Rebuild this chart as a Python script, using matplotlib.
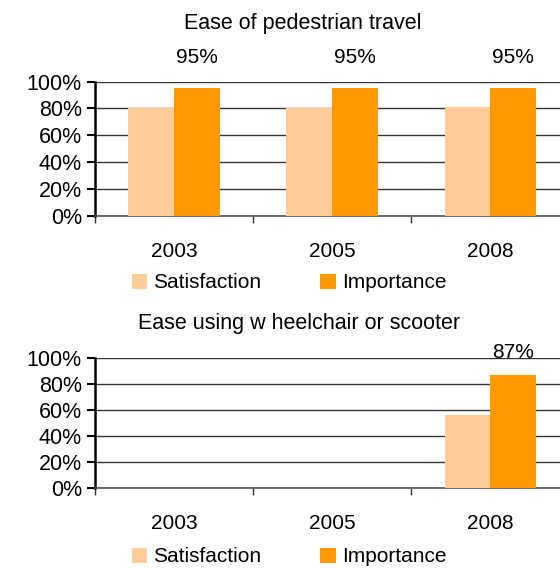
import numpy as np
import matplotlib.pyplot as plt

plt.rcParams['font.family'] = ['Liberation Sans', 'DejaVu Sans']

years = ["2003", "2005", "2008"]

ped_title = "Ease of pedestrian travel"
ped_satisfaction = [80, 80, 81]
ped_importance = [95, 95, 95]

wheel_title = "Ease using w heelchair or scooter"
wheel_satisfaction = [np.nan, np.nan, 56]
wheel_importance = [np.nan, np.nan, 87]

sat_color = "#FFCC99"
imp_color = "#FF9900"

fig = plt.figure(figsize=(5.6, 5.68), dpi=100)


def draw_panel(rect, title, title_xy, sat, imp, label_offset, legend_y):
    ax = fig.add_axes(rect)
    x = np.arange(len(years))
    w = 0.29
    ax.bar(x - w / 2, sat, w, color=sat_color, label="Satisfaction", zorder=3)
    ax.bar(x + w / 2, imp, w, color=imp_color, label="Importance", zorder=3)
    for xi, v in zip(x, imp):
        if np.isnan(v):
            continue
        ax.annotate(f"{v:.0f}%", (xi + w / 2, v), xytext=(0, label_offset),
                    textcoords="offset points", ha="center", va="center",
                    fontsize=15, annotation_clip=False)

    ax.set_xlim(-0.5, 2.44)
    ax.set_ylim(0, 100)
    ax.set_yticks(range(0, 101, 20))
    ax.set_yticklabels([f"{t}%" for t in range(0, 101, 20)], fontsize=15.5)
    ax.set_xticks(x)
    ax.set_xticklabels(years, fontsize=15)
    ax.set_xticks([-0.5, 0.5, 1.5], minor=True)
    ax.tick_params(axis="x", which="major", length=0, pad=19)
    ax.tick_params(axis="x", which="minor", length=5, width=1, color="#333333")
    ax.tick_params(axis="y", length=5.5, width=1.5, pad=4)
    ax.yaxis.grid(True, color="#333333", linewidth=1, zorder=0)
    for s in ["top", "right"]:
        ax.spines[s].set_visible(False)
    ax.spines["left"].set_linewidth(1.8)
    ax.spines["bottom"].set_color("#555555")
    ax.spines["bottom"].set_linewidth(1.2)

    fig.text(title_xy[0], title_xy[1], title, ha="center", va="center", fontsize=15.5)
    fig.legend(*ax.get_legend_handles_labels(), loc="center",
               bbox_to_anchor=(0.516, legend_y), ncol=2, frameon=False,
               fontsize=15, handlelength=0.75, handleheight=0.75,
               handletextpad=0.3, columnspacing=2.8, borderpad=0)
    return ax


draw_panel([95 / 560, 1 - 215.7 / 568, 1 - 95 / 560, 134 / 568],
           ped_title, (303 / 560, 1 - 23 / 568),
           ped_satisfaction, ped_importance, 22, 1 - 283 / 568)
draw_panel([95 / 560, 1 - 487.7 / 568, 1 - 95 / 560, 129.4 / 568],
           wheel_title, (299 / 560, 1 - 323 / 568),
           wheel_satisfaction, wheel_importance, 16, 1 - 557 / 568)

fig.savefig("out.png", dpi=100)
